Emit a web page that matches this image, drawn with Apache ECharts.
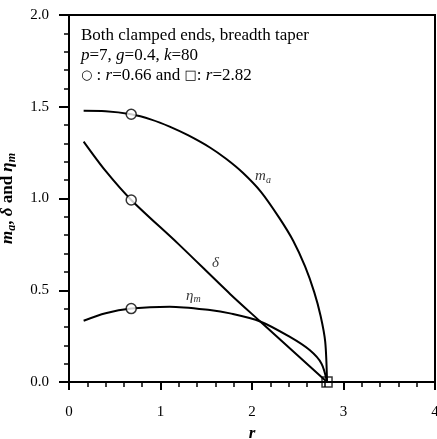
<!DOCTYPE html>
<html>
<head>
<meta charset="utf-8">
<script src="https://cdn.jsdelivr.net/npm/echarts@6/dist/echarts.min.js"></script>
<style>
  html, body { margin: 0; padding: 0; background: #fff; }
  #chart { width: 437px; height: 439px; }
</style>
</head>
<body>
<div id="chart"></div>
<script>
// values
const maR = [0.16, 0.4, 0.68, 0.9, 1.1, 1.3, 1.54, 1.72, 1.9, 2.1, 2.3, 2.45, 2.58, 2.68, 2.75, 2.8, 2.82]
const maV = [1.478, 1.476, 1.459, 1.43, 1.392, 1.345, 1.278, 1.215, 1.14, 1.035, 0.893, 0.77, 0.63, 0.49, 0.36, 0.22, 0]

const deltaR = [0.16, 0.4, 0.68, 1.2, 1.76, 2.09, 2.5, 2.82]
const deltaV = [1.31, 1.15, 0.992, 0.75, 0.48, 0.33, 0.145, 0]

const etaR = [0.16, 0.4, 0.68, 1.1, 1.54, 1.76, 2.09, 2.41, 2.63, 2.76, 2.82]
const etaV = [0.334, 0.375, 0.40, 0.41, 0.392, 0.374, 0.33, 0.247, 0.174, 0.10, 0]

const circleR = 0.68
const circleV = [1.459, 0.992, 0.40]
const squarePt = [2.82, 0]

const xTicks = [0, 1, 2, 3, 4]
const yTicks = ['0.0', '0.5', '1.0', '1.5', '2.0']

// curve label anchors [r, value]
const labelPos = {
  ma: [2.12, 1.12],
  delta: [1.6, 0.65],
  eta: [1.36, 0.47]
}

const FONT = '"Liberation Serif", "DejaVu Serif", serif'
const zip = (xs, ys) => xs.map((x, i) => [x, ys[i]])

const myChart = echarts.init(document.getElementById('chart'), null, { renderer: 'canvas' })

const lineSeries = (data) => ({
  type: 'line',
  data: data,
  smooth: 0.3,
  showSymbol: false,
  lineStyle: { color: '#000', width: 2 },
  z: 3
})

const axisLineStyle = { color: '#000', width: 2 }

const option = {
  animation: false,
  backgroundColor: '#fff',
  textStyle: { fontFamily: FONT, color: '#000' },
  title: {
    left: 76,
    top: 21,
    text: '{n|Both clamped ends, breadth taper}\n{i|p}{n|=7, }{i|g}{n|=0.4, }{i|k}{n|=80}\n{s|○}{n| : }{i|r}{n|=0.66 and }{s|□}{n|: }{i|r}{n|=2.82}',
    textStyle: {
      fontWeight: 'normal',
      rich: {
        n: { fontFamily: FONT, fontSize: 17, fontWeight: 'normal', color: '#000', lineHeight: 20 },
        i: { fontFamily: FONT, fontSize: 17, fontStyle: 'italic', fontWeight: 'normal', color: '#000', lineHeight: 20 },
        s: { fontFamily: '"DejaVu Sans"', fontSize: 13, fontWeight: 'normal', color: '#000', lineHeight: 20 }
      }
    }
  },
  grid: {
    left: 69,
    right: 2,
    top: 15,
    bottom: 57,
    outerBoundsMode: 'none',
    show: true,
    borderColor: '#000',
    borderWidth: 2
  },
  xAxis: {
    type: 'value',
    min: 0,
    max: 4,
    interval: 1,
    name: 'r',
    nameLocation: 'middle',
    nameGap: 35,
    nameTextStyle: { fontFamily: FONT, fontSize: 17, fontStyle: 'italic', fontWeight: 'bold', color: '#000' },
    axisLine: { show: true, lineStyle: axisLineStyle },
    axisTick: { show: true, inside: false, length: 8, lineStyle: { color: '#000', width: 2 } },
    minorTick: { show: true, splitNumber: 5, length: 5, lineStyle: { color: '#000', width: 1.5 } },
    splitLine: { show: false },
    axisLabel: {
      margin: 23,
      fontFamily: FONT,
      fontSize: 15,
      color: '#000',
      formatter: (v) => (xTicks.includes(v) ? String(v) : '')
    }
  },
  yAxis: {
    type: 'value',
    min: 0,
    max: 2,
    interval: 0.5,
    name: '{i|m}{sub|a}{n|, }{i|δ}{n| and }{i|η}{sub|m}',
    nameLocation: 'middle',
    nameGap: 51,
    nameRotate: 90,
    nameTextStyle: {
      rich: {
        n: { fontFamily: FONT, fontSize: 17, fontWeight: 'bold', color: '#000' },
        i: { fontFamily: FONT, fontSize: 17, fontStyle: 'italic', fontWeight: 'bold', color: '#000' },
        sub: { fontFamily: FONT, fontSize: 12, fontStyle: 'italic', fontWeight: 'bold', color: '#000', padding: [8, 0, 0, 0] }
      }
    },
    axisLine: { show: true, lineStyle: axisLineStyle },
    axisTick: { show: true, inside: false, length: 10, lineStyle: { color: '#000', width: 2 } },
    minorTick: { show: true, splitNumber: 5, length: 5, lineStyle: { color: '#000', width: 1.5 } },
    splitLine: { show: false },
    axisLabel: {
      margin: 20,
      fontFamily: FONT,
      fontSize: 15,
      color: '#000',
      formatter: (v) => yTicks[Math.round(v / 0.5)] || ''
    }
  },
  series: [
    lineSeries(zip(maR, maV)),
    lineSeries(zip(deltaR, deltaV)),
    lineSeries(zip(etaR, etaV)),
    {
      type: 'scatter',
      data: circleV.map((v) => [circleR, v]),
      symbol: 'circle',
      symbolSize: 10,
      itemStyle: { color: '#fff', borderColor: '#000', borderWidth: 1.5 },
      z: 4
    },
    {
      type: 'scatter',
      data: [squarePt],
      symbol: 'rect',
      symbolSize: 10,
      itemStyle: { color: 'rgba(255,255,255,0)', borderColor: '#000', borderWidth: 1.5 },
      z: 4
    },
    {
      type: 'scatter',
      symbolSize: 0,
      silent: true,
      data: [
        { value: labelPos.ma, label: { formatter: '{i|m}{sub|a}' } },
        { value: labelPos.delta, label: { formatter: '{i|δ}' } },
        { value: labelPos.eta, label: { formatter: '{i|η}{sub|m}' } }
      ],
      label: {
        show: true,
        position: 'inside',
        rich: {
          i: { fontFamily: FONT, fontSize: 15, fontStyle: 'italic', color: '#000' },
          sub: { fontFamily: FONT, fontSize: 10, fontStyle: 'italic', color: '#000', padding: [7, 0, 0, 0] }
        }
      },
      z: 5
    }
  ]
}

myChart.setOption(option)

window.addEventListener('resize', function () {
  myChart.resize()
})
</script>
</body>
</html>
